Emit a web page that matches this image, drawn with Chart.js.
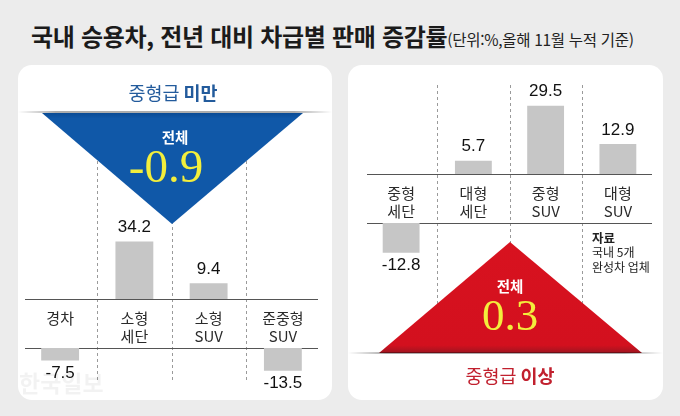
<!DOCTYPE html>
<html lang="ko">
<head>
<meta charset="utf-8">
<script src="https://cdn.jsdelivr.net/npm/chart.js@4.4.1/dist/chart.umd.min.js"></script>
<style>
    body { margin: 0; background: #ececec; }
    #page { position: relative; width: 680px; height: 416px; overflow: hidden; background: #ececec; }
    #title { position: absolute; left: 31px; top: 21px; font: 700 24px 'Noto Sans CJK KR'; letter-spacing: -0.3px; color: #1b1b1b; white-space: nowrap; line-height: 30px; }
    #title span { font-weight: 400; font-size: 15.5px; letter-spacing: -0.3px; color: #222; }
    .panel { position: absolute; top: 65px; height: 335px; background: #fff; border-radius: 14px; }
    .panel canvas { position: absolute; left: 0; top: 0; }
    #leftPanel { left: 18px; width: 314px; }
    #rightPanel { left: 348px; width: 315px; }
</style>
</head>
<body>
<div id="page">
    <div id="title">국내 승용차, 전년 대비 차급별 판매 증감률<span>(단위:%,올해 11월 누적 기준)</span></div>
    <div class="panel" id="leftPanel"><canvas id="smallChart" width="314" height="335"></canvas></div>
    <div class="panel" id="rightPanel"><canvas id="largeChart" width="315" height="335"></canvas></div>
</div>
<script>
// 중형급 미만
const smallCategories = [['경차'], ['소형', '세단'], ['소형', 'SUV'], ['준중형', 'SUV']];
const smallValues = [-7.5, 34.2, 9.4, -13.5];
const smallTotal = '-0.9';

// 중형급 이상
const largeCategories = [['중형', '세단'], ['대형', '세단'], ['중형', 'SUV'], ['대형', 'SUV']];
const largeValues = [-12.8, 5.7, 29.5, 12.9];
const largeTotal = '0.3';

const KR = "'Noto Sans CJK KR'";
const NUM = "'Liberation Sans', Arial";

function drawMixed(ctx, parts, cx, cy) {
    let total = 0;
    parts.forEach(p => { ctx.font = p[1]; total += ctx.measureText(p[0]).width; });
    let x = cx - total / 2;
    ctx.textAlign = 'left';
    parts.forEach(p => { ctx.font = p[1]; ctx.fillText(p[0], x, cy); x += ctx.measureText(p[0]).width; });
}

function shadowLine(ctx, y, w) {
    const g = ctx.createLinearGradient(0, 0, w, 0);
    g.addColorStop(0, 'rgba(0,0,0,0)');
    g.addColorStop(0.12, 'rgba(0,0,0,0.32)');
    g.addColorStop(0.88, 'rgba(0,0,0,0.32)');
    g.addColorStop(1, 'rgba(0,0,0,0)');
    ctx.fillStyle = g;
    ctx.fillRect(0, y - 1, w, 2);
}

const panelDeco = {
    id: 'panelDeco',
    beforeDatasetsDraw(chart) {
        const {ctx, chartArea, scales} = chart;
        const x = scales.x;
        ctx.save();
        ctx.strokeStyle = '#9a9a9a';
        ctx.lineWidth = 1;
        ctx.setLineDash([3, 3]);
        for (let i = 0; i < chart.data.labels.length - 1; i++) {
            const dx = Math.round((x.getPixelForValue(i) + x.getPixelForValue(i + 1)) / 2) + 0.5;
            ctx.beginPath();
            ctx.moveTo(dx, chartArea.top);
            ctx.lineTo(dx, chartArea.bottom);
            ctx.stroke();
        }
        ctx.setLineDash([]);
        ctx.strokeStyle = '#555';
        [scales.yPos.bottom, scales.yNeg.top].forEach(y => {
            const yy = Math.round(y) + 0.5;
            ctx.beginPath();
            ctx.moveTo(chartArea.left + 2, yy);
            ctx.lineTo(chartArea.right - 2, yy);
            ctx.stroke();
        });
        ctx.restore();
    },
    afterDatasetsDraw(chart, args, opts) {
        const {ctx, chartArea, scales} = chart;
        const x = scales.x;
        const w = chart.width;
        ctx.save();
        ctx.textBaseline = 'middle';

        if (opts.kind === 'small') {
            ctx.font = `700 23px ${KR}`;
            ctx.fillStyle = 'rgba(0,0,0,0.05)';
            ctx.textAlign = 'left';
            ctx.fillText('한국일보', 1, 318);
        }

        // value labels
        ctx.fillStyle = '#111';
        ctx.font = `17px ${NUM}`;
        ctx.textAlign = 'center';
        chart.data.datasets.forEach((ds, di) => {
            const meta = chart.getDatasetMeta(di);
            meta.data.forEach((bar, i) => {
                const v = ds.data[i];
                if (v === null) return;
                const y = v > 0 ? bar.y - 14 : bar.y + 13;
                ctx.fillText(v.toFixed(1), bar.x, y);
            });
        });

        // category labels in the band between the two baselines
        ctx.fillStyle = '#2a2a2a';
        ctx.font = `15px ${KR}`;
        chart.data.labels.forEach((lines, i) => {
            const cx = x.getPixelForValue(i);
            lines.forEach((t, k) => ctx.fillText(t, cx, scales.yPos.bottom + 19 + k * 18.5));
        });

        const apexX = Math.round((x.getPixelForValue(1) + x.getPixelForValue(2)) / 2);
        if (opts.kind === 'small') {
            const top = chartArea.top;
            const g = ctx.createLinearGradient(0, top, 0, top + 111);
            g.addColorStop(0, '#0a4b95');
            g.addColorStop(0.05, '#1058a8');
            g.addColorStop(1, '#1058a8');
            ctx.fillStyle = g;
            ctx.beginPath();
            ctx.moveTo(apexX - 130, top);
            ctx.lineTo(apexX + 131, top);
            ctx.lineTo(apexX, top + 111);
            ctx.closePath();
            ctx.fill();
            shadowLine(ctx, top - 1, w);

            ctx.textAlign = 'center';
            ctx.fillStyle = '#fff';
            ctx.font = `700 14.5px ${KR}`;
            ctx.fillText('전체', apexX + 3, top + 24);
            ctx.fillStyle = '#f3ee3c';
            ctx.font = `47px 'Liberation Serif', 'DejaVu Serif', serif`;
            ctx.fillText(opts.total, apexX - 6, top + 57);

            ctx.fillStyle = '#235b9c';
            drawMixed(ctx, [['중형급 ', `400 18.5px ${KR}`], ['미만', `700 18.5px ${KR}`]], apexX + 1, top - 20);
        } else {
            const bottom = chartArea.bottom;
            const g = ctx.createLinearGradient(0, bottom - 111, 0, bottom);
            g.addColorStop(0, '#d8121f');
            g.addColorStop(0.93, '#d3101e');
            g.addColorStop(1, '#9e1520');
            ctx.fillStyle = g;
            ctx.beginPath();
            ctx.moveTo(apexX - 131, bottom);
            ctx.lineTo(apexX + 132, bottom);
            ctx.lineTo(apexX, bottom - 111);
            ctx.closePath();
            ctx.fill();
            shadowLine(ctx, bottom, w);

            ctx.textAlign = 'center';
            ctx.fillStyle = '#fff';
            ctx.font = `700 14.5px ${KR}`;
            ctx.fillText('전체', apexX, bottom - 67);
            ctx.fillStyle = '#f3ee3c';
            ctx.font = `45px 'Liberation Serif', 'DejaVu Serif', serif`;
            ctx.fillText(opts.total, apexX, bottom - 35);

            ctx.fillStyle = '#c1202e';
            drawMixed(ctx, [['중형급 ', `400 18.5px ${KR}`], ['이상', `700 18.5px ${KR}`]], apexX, bottom + 23);

            // source note
            ctx.textAlign = 'left';
            ctx.fillStyle = '#222';
            ctx.font = `700 12.5px ${KR}`;
            ctx.fillText('자료', 244, 173);
            ctx.font = `12px ${KR}`;
            ctx.fillText('국내 5개', 244, 187);
            ctx.fillText('완성차 업체', 244, 202);
        }
        ctx.restore();
    }
};

function makePanel(canvasId, categories, values, cfg) {
    const pos = values.map(v => (v > 0 ? v : null));
    const neg = values.map(v => (v < 0 ? v : null));
    const barStyle = { backgroundColor: '#c6c6c6', borderWidth: 0, barPercentage: 0.51, categoryPercentage: 1, grouped: false };
    return new Chart(document.getElementById(canvasId), {
        type: 'bar',
        data: {
            labels: categories,
            datasets: [
                Object.assign({ data: pos, yAxisID: 'yPos' }, barStyle),
                Object.assign({ data: neg, yAxisID: 'yNeg' }, barStyle)
            ]
        },
        options: {
            responsive: false,
            animation: false,
            layout: { padding: cfg.padding },
            plugins: { legend: { display: false }, tooltip: { enabled: false }, panelDeco: { kind: cfg.kind, total: cfg.total } },
            scales: {
                x: { type: 'category', display: false, offset: true },
                yPos: { type: 'linear', position: 'left', display: false, stack: 'v', stackWeight: cfg.weights[0], weight: 3, min: 0, max: cfg.posMax },
                yGap: { type: 'linear', position: 'left', display: false, stack: 'v', stackWeight: cfg.weights[1], weight: 2, min: 0, max: 1 },
                yNeg: { type: 'linear', position: 'left', display: false, stack: 'v', stackWeight: cfg.weights[2], weight: 1, min: cfg.negMin, max: 0 }
            }
        },
        plugins: [panelDeco]
    });
}

makePanel('smallChart', smallCategories, smallValues, {
    kind: 'small', total: smallTotal,
    padding: { left: 5, right: 12, top: 48, bottom: 17 },
    weights: [186, 49, 35], posMax: 110.7, negMin: -20.8
});

makePanel('largeChart', largeCategories, largeValues, {
    kind: 'large', total: largeTotal,
    padding: { left: 17, right: 9, top: 20, bottom: 47 },
    weights: [89, 49, 130], posMax: 38.4, negMin: -56
});
</script>
</body>
</html>
